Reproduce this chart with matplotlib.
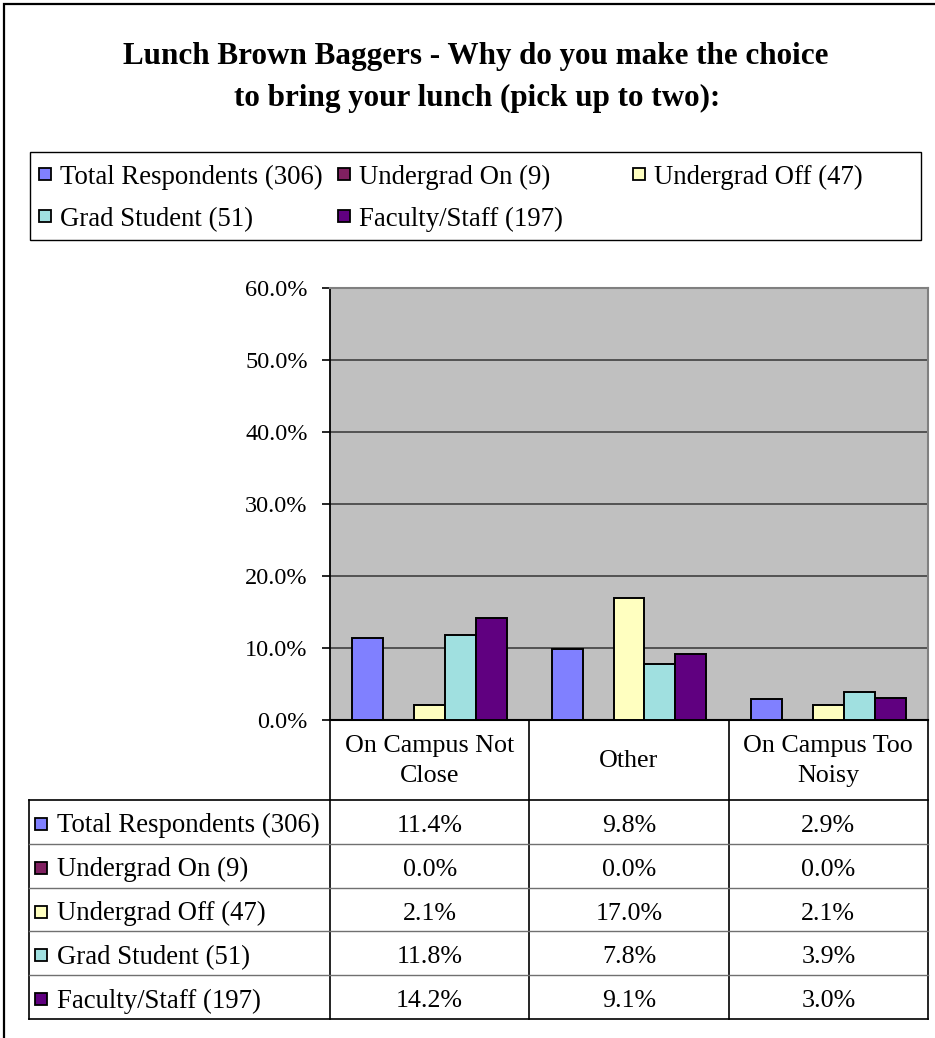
import matplotlib
matplotlib.use('Agg')
from matplotlib import pyplot as plt
from matplotlib import ticker
from matplotlib.patches import Rectangle
from matplotlib.lines import Line2D
from matplotlib.transforms import blended_transform_factory

plt.rcParams['font.family'] = ['Liberation Serif', 'DejaVu Serif']

# survey results, percent of each group
categories = ['On Campus Not\nClose', 'Other', 'On Campus Too\nNoisy']
groups = ['Total Respondents (306)', 'Undergrad On (9)', 'Undergrad Off (47)',
          'Grad Student (51)', 'Faculty/Staff (197)']
total_resp = [11.4, 9.8, 2.9]
undergrad_on = [0.0, 0.0, 0.0]
undergrad_off = [2.1, 17.0, 2.1]
grad_student = [11.8, 7.8, 3.9]
faculty_staff = [14.2, 9.1, 3.0]
series = [total_resp, undergrad_on, undergrad_off, grad_student, faculty_staff]
colors = ['#8080FF', '#802060', '#FFFFC0', '#A0E0E0', '#600080']
y_ticks = [0, 10, 20, 30, 40, 50, 60]

W, H = 935, 1038


def fx(px):
    return px / W


def fy(py):
    return 1 - py / H


def swatch(x, y, c):
    # small coloured key square, (x, y) is its top-left corner in pixels
    fig.add_artist(Rectangle((fx(x), fy(y + 12)), fx(12), 12 / H,
                             transform=fig.transFigure, fc=c, ec='black', lw=1.3))


fig = plt.figure(figsize=(W / 100, H / 100), dpi=100)
fig.patch.set_facecolor('white')

# outer chart frame (runs off the right and bottom edges)
fig.add_artist(Rectangle((fx(4), fy(1060)), 1.0, fy(4) - fy(1060),
                         transform=fig.transFigure, fill=False, lw=1.6, ec='black'))

# title
fig.text(fx(476), fy(64), 'Lunch Brown Baggers - Why do you make the choice',
         ha='center', va='baseline', fontsize=22.4, fontweight='bold')
fig.text(fx(477), fy(106), 'to bring your lunch (pick up to two):',
         ha='center', va='baseline', fontsize=22.4, fontweight='bold')

# legend box
fig.add_artist(Rectangle((fx(30), fy(240)), fx(921) - fx(30), fy(152) - fy(240),
                         transform=fig.transFigure, fill=False, lw=1.0, ec='black'))
legend_pos = [(39, 184), (338, 184), (633, 184), (39, 226), (338, 226)]
for (lx, ly), name, c in zip(legend_pos, groups, colors):
    swatch(lx, ly - 16, c)
    fig.text(fx(lx + 21), fy(ly), name, ha='left', va='baseline', fontsize=19.3)

# bar chart
ax = fig.add_axes([fx(330), fy(720), fx(928) - fx(330), fy(288) - fy(720)])
ax.set_facecolor('#C0C0C0')
bar_w = 0.155
for k, (vals, c) in enumerate(zip(series, colors)):
    xs = [i + 0.5 + (k - 2) * bar_w for i in range(len(categories))]
    ax.bar(xs, vals, width=bar_w, color=c, edgecolor='black', lw=1.4, zorder=3)

ax.set_xlim(0, len(categories))
ax.set_ylim(0, 60)
ax.set_yticks(y_ticks)
ax.yaxis.set_major_formatter(ticker.FuncFormatter(lambda v, p: '%.1f%%' % v))
ax.set_xticks([])
ax.tick_params(axis='y', direction='out', length=6, width=1.2, pad=10, labelsize=17.5)
ax.yaxis.grid(True, color='#404040', lw=1.2)
ax.set_axisbelow(True)
ax.spines['left'].set_linewidth(1.3)
ax.spines['bottom'].set_linewidth(1.5)
for s in ['top', 'right']:
    ax.spines[s].set_color('#808080')
    ax.spines[s].set_linewidth(1.5)

# data table under the plot
trans = blended_transform_factory(ax.transData, fig.transFigure)
header_top, header_bot, row_h = 720, 800, 43.8
table_left = 29
table_bot = header_bot + row_h * len(groups)

for i, cat in enumerate(categories):
    fig.text(i + 0.5, fy((header_top + header_bot) / 2 + 1), cat, transform=trans,
             ha='center', va='center', fontsize=18.7, linespacing=1.45)

# vertical rules: category edges down the whole table
for i in range(len(categories) + 1):
    fig.add_artist(Line2D([i, i], [fy(header_top), fy(table_bot)],
                          transform=trans, color='black', lw=1.2))
fig.add_artist(Line2D([fx(table_left)] * 2, [fy(header_bot), fy(table_bot)],
                      transform=fig.transFigure, color='black', lw=1.2))

# horizontal rules
for r in range(len(groups) + 1):
    yy = fy(header_bot + r * row_h)
    edge = r in (0, len(groups))
    fig.add_artist(Line2D([fx(table_left), fx(928)], [yy, yy], transform=fig.transFigure,
                          color='black' if edge else '#707070', lw=1.2 if edge else 1.0))

for r, (name, vals, c) in enumerate(zip(groups, series, colors)):
    yc = header_bot + (r + 0.5) * row_h
    swatch(35, yc - 4, c)
    fig.text(fx(57), fy(yc + 4), name, ha='left', va='center', fontsize=19.3)
    for i, v in enumerate(vals):
        fig.text(i + 0.5, fy(yc + 4), '%.1f%%' % v, transform=trans,
                 ha='center', va='center', fontsize=18.7)

fig.savefig('out.png', dpi=100)
